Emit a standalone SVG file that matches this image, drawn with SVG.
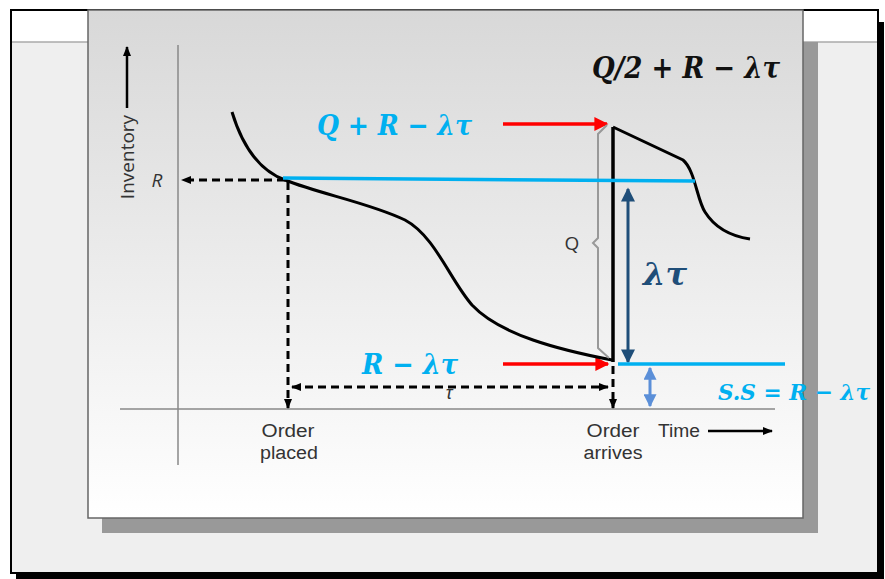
<svg xmlns="http://www.w3.org/2000/svg" width="885" height="579" viewBox="0 0 885 579">
<defs>
<linearGradient id="pg" x1="0" y1="0" x2="0" y2="1">
<stop offset="0" stop-color="#d8d8d8"/>
<stop offset="1" stop-color="#ffffff"/>
</linearGradient>
<marker id="ak" viewBox="0 0 10 10" refX="9" refY="5" markerWidth="10" markerHeight="10" markerUnits="userSpaceOnUse" orient="auto-start-reverse"><path d="M0,1 L10,5 L0,9 z" fill="#000"/></marker>
<marker id="ar" viewBox="0 0 10 10" refX="9" refY="5" markerWidth="16" markerHeight="14" markerUnits="userSpaceOnUse" orient="auto"><path d="M0,0 L10,5 L0,10 z" fill="#ff0000"/></marker>
<marker id="ab" viewBox="0 0 10 10" refX="9" refY="5" markerWidth="16" markerHeight="14" markerUnits="userSpaceOnUse" orient="auto-start-reverse"><path d="M0,0 L10,5 L0,10 z" fill="#1f4e79"/></marker>
<marker id="al" viewBox="0 0 10 10" refX="9" refY="5" markerWidth="14" markerHeight="13" markerUnits="userSpaceOnUse" orient="auto-start-reverse"><path d="M0,0 L10,5 L0,10 z" fill="#5b8fd8"/></marker>
</defs>
<style>
.lbl{font-family:"Open Sans","Liberation Sans",Arial,sans-serif;font-size:19px;fill:#333}
.lb2{font-family:"Liberation Sans",Arial,sans-serif;font-size:18px;fill:#333}
.math{font-family:"DejaVu Serif","Liberation Serif",serif;font-style:italic;font-weight:bold}
.cy{fill:#00b0f0}
.dash{stroke:#000;stroke-width:3;stroke-dasharray:8,5;fill:none}
</style>
<rect x="0" y="0" width="885" height="579" fill="#ffffff"/>
<!-- outer frame shadow -->
<rect x="16" y="22" width="868" height="557" fill="#000"/>
<rect x="11" y="10" width="867" height="563" fill="#efefef" stroke="#000" stroke-width="2"/>
<rect x="12" y="11" width="865" height="31" fill="#ffffff"/>
<line x1="12" y1="42" x2="877" y2="42" stroke="#aaa" stroke-width="1.5"/>
<!-- panel -->
<rect x="102" y="42" width="716" height="491" fill="#999"/>
<rect x="88" y="10" width="715" height="508" fill="url(#pg)" stroke="#666" stroke-width="1.5"/>
<g id="axes">
<line x1="178" y1="45" x2="178" y2="465" stroke="#888" stroke-width="1.5"/>
<line x1="120" y1="409" x2="775" y2="409" stroke="#888" stroke-width="1.5"/>
<line x1="127" y1="108" x2="127" y2="47" stroke="#000" stroke-width="2.5" marker-end="url(#ak)"/>
<text class="lbl" transform="translate(134,157) rotate(-90)" text-anchor="middle">Inventory</text>
<text class="lbl" x="157" y="187" text-anchor="middle" font-style="italic" font-size="16">R</text>
</g>
<g id="connectors">
<line x1="285" y1="180" x2="182" y2="180" class="dash" marker-end="url(#ak)"/>
<line x1="288" y1="182" x2="288" y2="408" class="dash" marker-end="url(#ak)"/>
<line x1="613" y1="366" x2="613" y2="408" class="dash" marker-end="url(#ak)"/>
<line x1="292" y1="387" x2="608" y2="387" class="dash" marker-start="url(#ak)" marker-end="url(#ak)"/>
<line x1="503" y1="124" x2="607" y2="124" stroke="#ff0000" stroke-width="3.5" marker-end="url(#ar)"/>
<line x1="503" y1="364" x2="608" y2="364" stroke="#ff0000" stroke-width="3.5" marker-end="url(#ar)"/>
<line x1="628" y1="189" x2="628" y2="362" stroke="#1f4e79" stroke-width="3" marker-start="url(#ab)" marker-end="url(#ab)"/>
<line x1="650" y1="368" x2="650" y2="406" stroke="#5b8fd8" stroke-width="3" marker-start="url(#al)" marker-end="url(#al)"/>
</g>
<g id="curve">
<path d="M232,112 C242,145 258,170 285,180 C320,194 370,203 405,220 C435,236 450,280 472,305 C500,335 560,350 612,360" fill="none" stroke="#000" stroke-width="3"/>
<line x1="613" y1="362" x2="613" y2="127" stroke="#000" stroke-width="3.5"/>
<path d="M613,127 L683,160 C695,170 697,200 705,212 C715,228 730,236 750,239" fill="none" stroke="#000" stroke-width="3"/>
</g>
<g id="brace">
<path d="M607,125 L598,134 L598,238 L593,243 L598,248 L598,348 L609,358" fill="none" stroke="#999" stroke-width="2"/>
<text class="lbl" x="572" y="250" text-anchor="middle" font-size="18">Q</text>
</g>
<g id="levels">
<line x1="283" y1="178" x2="695" y2="181" stroke="#00b0f0" stroke-width="3.5"/>
<line x1="618" y1="364" x2="785" y2="364" stroke="#00b0f0" stroke-width="3.5"/>
</g>
<g id="labels">
<text class="math" x="592" y="78" font-size="29" fill="#111" textLength="188" lengthAdjust="spacingAndGlyphs">Q/2 + R − λτ</text>
<text class="math cy" x="317" y="135" font-size="28" textLength="155" lengthAdjust="spacingAndGlyphs">Q + R − λτ</text>
<text class="math cy" x="362" y="374" font-size="28" textLength="96" lengthAdjust="spacingAndGlyphs">R − λτ</text>
<text class="math" x="643" y="285" font-size="32" fill="#1f4e79" textLength="44" lengthAdjust="spacingAndGlyphs">λτ</text>
<text class="math cy" x="718" y="400" font-size="23" textLength="152" lengthAdjust="spacingAndGlyphs">S.S = R − λτ</text>
<text class="lb2" x="449" y="399" text-anchor="middle" font-style="italic" font-size="12">τ</text>
<text class="lb2" x="288" y="437" text-anchor="middle" textLength="53" lengthAdjust="spacingAndGlyphs">Order</text>
<text class="lb2" x="289" y="459" text-anchor="middle" textLength="58" lengthAdjust="spacingAndGlyphs">placed</text>
<text class="lb2" x="613" y="437" text-anchor="middle" textLength="53" lengthAdjust="spacingAndGlyphs">Order</text>
<text class="lb2" x="613" y="459" text-anchor="middle" textLength="59" lengthAdjust="spacingAndGlyphs">arrives</text>
<text class="lb2" x="658" y="437" textLength="42" lengthAdjust="spacingAndGlyphs">Time</text>
<line x1="708" y1="431" x2="772" y2="431" stroke="#000" stroke-width="2.5" marker-end="url(#ak)"/>
</g>
</svg>
